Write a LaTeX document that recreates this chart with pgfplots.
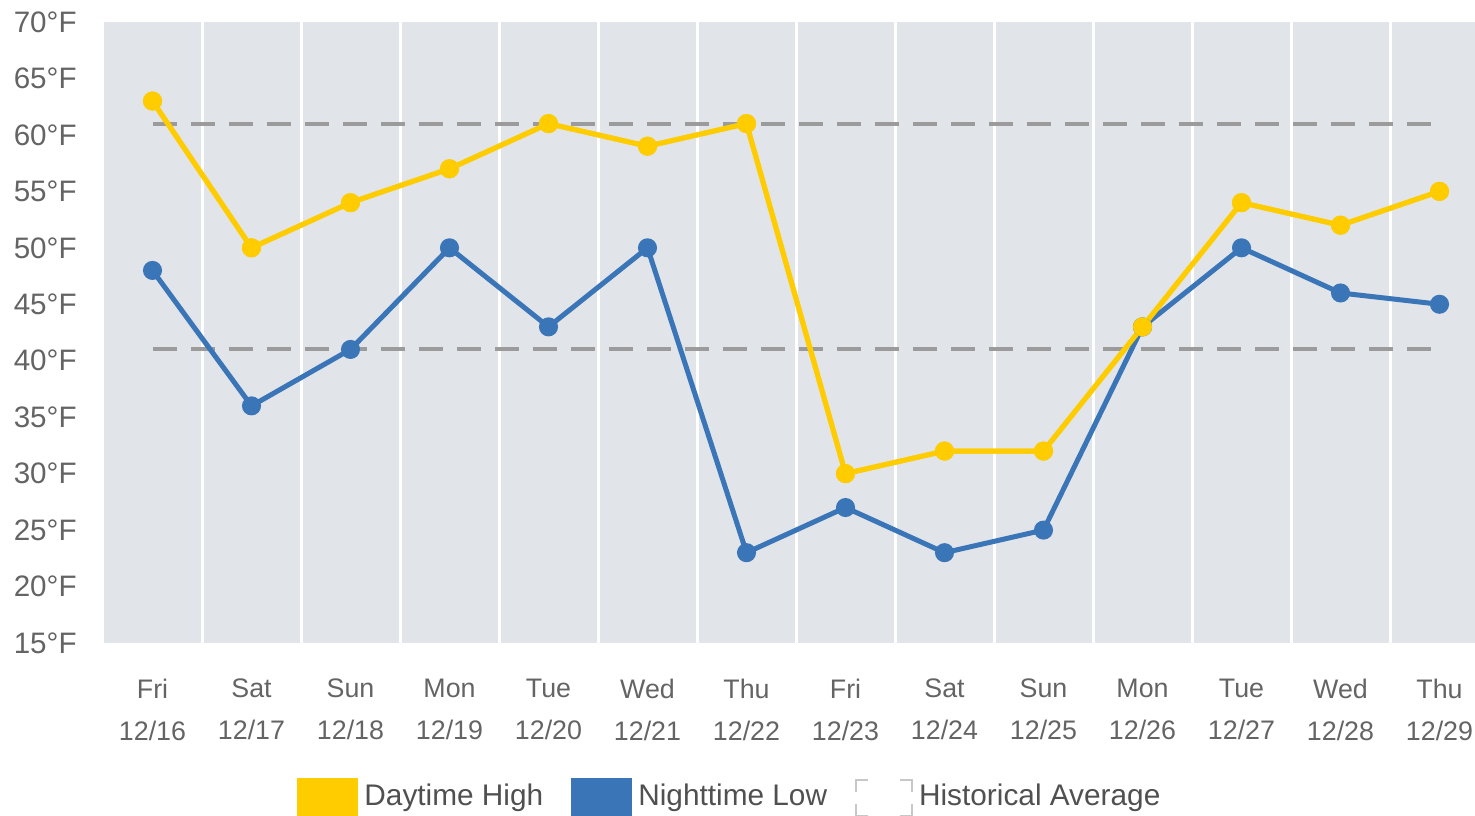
\documentclass[border=0pt]{standalone}
\usepackage{pgfplots}
\pgfplotsset{compat=1.18}
\usepackage{fontspec}
\setmainfont{Liberation Sans}
\definecolor{bgc}{RGB}{225,228,232}
\definecolor{hi}{RGB}{255,204,0}
\definecolor{lo}{RGB}{58,117,184}
\definecolor{avg}{RGB}{155,155,155}
\definecolor{txt}{RGB}{100,100,100}
\definecolor{legtxt}{RGB}{80,80,80}
\begin{document}
\begin{tikzpicture}
\begin{axis}[
  name=ax,
  scale only axis,
  width=693pt, height=310.5pt,
  xmin=-0.5, xmax=13.5, ymin=15, ymax=70,
  axis line style={draw=none},
  axis background/.style={fill=bgc},
  major tick length=0pt, minor tick length=0pt,
  xtick={0,...,13},
  xticklabels={{Fri\\12/16},{Sat\\12/17},{Sun\\12/18},{Mon\\12/19},{Tue\\12/20},{Wed\\12/21},{Thu\\12/22},{Fri\\12/23},{Sat\\12/24},{Sun\\12/25},{Mon\\12/26},{Tue\\12/27},{Wed\\12/28},{Thu\\12/29}},
  x tick label style={align=center, font=\fontsize{13.4}{21}\selectfont, text=txt, yshift=-14.5pt},
  minor xtick={-0.5,0.5,...,12.5},
  xminorgrids=true,
  minor grid style={white, line width=1.5pt},
  ytick={15,20,...,70},
  yticklabel={\pgfmathprintnumber{\tick}°F},
  /pgf/number format/assume math mode=true,
  y tick label style={font=\fontsize{14.8}{18}\selectfont, text=txt, inner sep=0pt, xshift=-13pt},
  legend columns=3,
  legend style={at={(0.14,-0.2496)}, anchor=west, draw=none, fill=none, inner sep=0pt,
    font=\fontsize{14.9}{18}\selectfont, text=legtxt,
    /tikz/every even column/.append style={column sep=11pt},
    nodes={inner sep=3pt}},
]
\addplot[avg, line width=2pt, dash pattern=on 12pt off 7pt, forget plot] coordinates {(0,41) (13,41)};
\addplot[avg, line width=2pt, dash pattern=on 12pt off 7pt, forget plot] coordinates {(0,61) (13,61)};
\addplot[hi, line width=2.5pt, mark=*, mark size=3.5pt, mark options={solid, fill=hi, draw=hi},
  legend image code/.code={\fill[hi] (0pt,-10pt) rectangle (28pt,8pt);}] coordinates {
(0,63) (1,50) (2,54) (3,57) (4,61) (5,59) (6,61) (7,30) (8,32) (9,32) (10,43) (11,54) (12,52) (13,55)};
\addlegendentry{Daytime High}
\addplot[lo, line width=2.5pt, mark=*, mark size=3.5pt, mark options={solid, fill=lo, draw=lo},
  legend image code/.code={\fill[lo] (0pt,-10pt) rectangle (28pt,8pt);}] coordinates {
(0,48) (1,36) (2,41) (3,50) (4,43) (5,50) (6,23) (7,27) (8,23) (9,25) (10,43) (11,50) (12,46) (13,45)};
\addlegendentry{Nighttime Low}
\addplot[hi, line width=2.5pt, mark=*, mark size=3.5pt, mark options={solid, fill=hi, draw=hi}, forget plot] coordinates {
(0,63) (1,50) (2,54) (3,57) (4,61) (5,59) (6,61) (7,30) (8,32) (9,32) (10,43) (11,54) (12,52) (13,55)};
\addlegendimage{legend image code/.code={\draw[black!22, line width=1pt] (0pt,-4pt)--(0pt,-10pt)--(6pt,-10pt) (22pt,-10pt)--(28pt,-10pt)--(28pt,-4pt) (28pt,2pt)--(28pt,8pt)--(22pt,8pt) (6pt,8pt)--(0pt,8pt)--(0pt,2pt);}}
\addlegendentry{Historical Average}
\end{axis}
\pgfresetboundingbox
\path[use as bounding box] (ax.south west) ++(-51.5pt,-86pt) rectangle ++(737.5pt,407.5pt);
\end{tikzpicture}
\end{document}
